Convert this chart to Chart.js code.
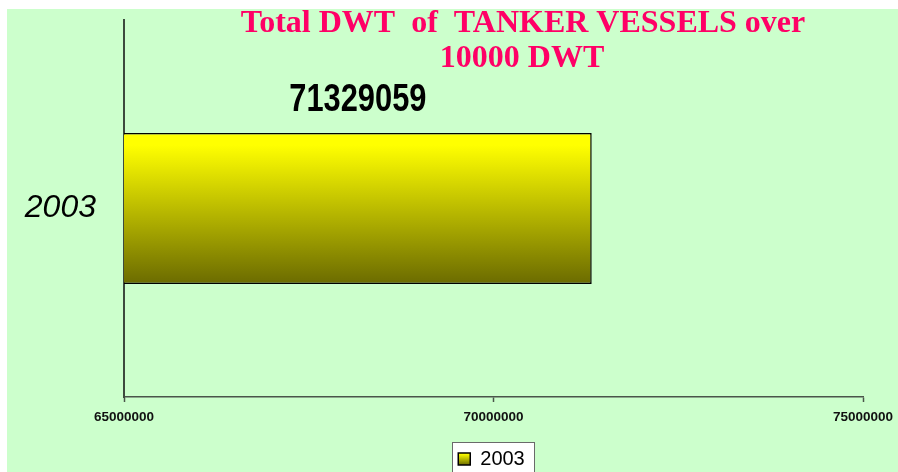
<!DOCTYPE html>
<html><head><meta charset="utf-8">
<script src="https://cdn.jsdelivr.net/npm/chart.js@4/dist/chart.umd.min.js"></script>
<style>html,body{margin:0;padding:0;background:#fff;overflow:hidden}#wrap{width:898px;height:472px;position:relative}</style>
</head><body><div id="wrap"><canvas id="c" width="898" height="472"></canvas></div>
<script>
// ---- data ----
const categories = ['2003'];
const seriesName = '2003';
const dwtValues = [71329059];
const xTickValues = [65000000, 70000000, 75000000];
const titleLines = ['Total DWT  of  TANKER VESSELS over', '10000 DWT'];

const BAR_FRACTION = 0.4;
const LEGEND_DX = 60, LEGEND_DY = 7;

function barGradient(ctx, top, bottom) {
  const g = ctx.createLinearGradient(0, top, 0, bottom);
  g.addColorStop(0, '#ffff00');
  g.addColorStop(0.08, '#ffff00');
  g.addColorStop(1, '#6b6b00');
  return g;
}

const bgPlugin = {
  id: 'bg',
  afterLayout(chart) {
    const lg = chart.legend;
    if (!lg || lg._shifted) return;
    lg.left += LEGEND_DX; lg.right += LEGEND_DX;
    lg.top += LEGEND_DY; lg.bottom += LEGEND_DY;
    lg._shifted = true;
  },
  beforeDraw(chart) {
    const ctx = chart.ctx;
    ctx.save();
    ctx.fillStyle = '#ffffff';
    ctx.fillRect(0, 0, chart.width, chart.height);
    ctx.fillStyle = '#ccffcc';
    ctx.fillRect(7, 9, chart.width - 7, chart.height - 9);
    const lg = chart.legend;
    if (lg && lg.legendItems && lg.legendItems.length) {
      const lab = lg.options.labels;
      const fs = lab.font.size;
      const bh = lab.boxHeight, bw = lab.boxWidth;
      const itemH = Math.max(fs, bh);
      ctx.font = fs + 'px "Liberation Sans", Arial, sans-serif';
      const tw = ctx.measureText(lg.legendItems[0].text).width;
      const itemW = bw + fs / 2 + tw;
      const itemLeft = (lg.left + lg.right - itemW) / 2;
      const itemTop = lg.top + lab.padding;
      const l = Math.round(itemLeft - 6), r = Math.round(itemLeft + itemW + 9), t = Math.round(itemTop + itemH / 2 - 17);
      ctx.fillStyle = '#ffffff';
      ctx.fillRect(l, t, r - l, chart.height - t + 5);
      ctx.strokeStyle = '#6a6a6a';
      ctx.lineWidth = 1;
      ctx.strokeRect(l + 0.5, t + 0.5, r - l, chart.height - t + 5);
      const bt = itemTop + (itemH - bh) / 2;
      lg.legendItems[0].fillStyle = barGradient(ctx, bt, bt + bh);
    }
    ctx.restore();
  },
  afterDraw(chart) {
    const ctx = chart.ctx;
    const xs = chart.scales.x, ys = chart.scales.y;
    const data = chart.data.datasets[0].data;
    ctx.save();
    ctx.fillStyle = '#000000';
    ctx.font = 'bold 39px "Liberation Sans", Arial, sans-serif';
    ctx.textAlign = 'center';
    ctx.textBaseline = 'middle';
    data.forEach((v, i) => {
      const x0 = xs.getPixelForValue(xs.min);
      const x1 = xs.getPixelForValue(v);
      const cx = (x0 + x1) / 2;
      const h = ys.height / categories.length * BAR_FRACTION;
      const cy = ys.getPixelForValue(i) - h / 2 - 33;
      ctx.save();
      ctx.translate(cx, cy);
      ctx.scale(0.79, 1);
      ctx.fillText(String(v), 0, 0);
      ctx.restore();
    });
    ctx.fillStyle = '#ff0066';
    ctx.font = 'bold 32px "Liberation Serif", "Times New Roman", serif';
    ctx.textAlign = 'center';
    ctx.textBaseline = 'alphabetic';
    ctx.fillText(titleLines[0], 523, 32);
    ctx.fillText(titleLines[1], 522, 67);
    ctx.restore();
  }
};

new Chart(document.getElementById('c'), {
  type: 'bar',
  data: {
    labels: categories,
    datasets: [{
      label: seriesName,
      data: dwtValues,
      backgroundColor(context) {
        const chart = context.chart;
        const ys = chart.scales.y;
        if (!chart.chartArea || !ys) return '#ffff00';
        const c = ys.getPixelForValue(context.dataIndex);
        const h = ys.height / categories.length * BAR_FRACTION;
        return barGradient(chart.ctx, c - h / 2, c + h / 2);
      },
      borderColor: '#000000',
      borderWidth: 1.5,
      borderSkipped: false,
      barPercentage: BAR_FRACTION,
      categoryPercentage: 1
    }]
  },
  options: {
    indexAxis: 'y',
    responsive: false,
    animation: false,
    devicePixelRatio: 1,
    layout: { padding: { left: 0, right: 35, top: 20, bottom: 0 } },
    scales: {
      x: {
        type: 'linear',
        min: xTickValues[0],
        max: xTickValues[xTickValues.length - 1],
        afterBuildTicks(scale) { scale.ticks = xTickValues.map(v => ({ value: v })); },
        afterFit(scale) { scale.height = 37; scale.paddingLeft = 0; scale.paddingRight = 0; },
        ticks: {
          callback: v => String(v),
          color: '#111111',
          font: { family: '"Liberation Sans", Arial, sans-serif', size: 13.5, weight: 'bold' },
          padding: 7,
          maxRotation: 0,
          autoSkip: false
        },
        grid: { drawOnChartArea: false, drawTicks: true, tickLength: 5, color: '#4a554a', tickWidth: 1.5 },
        border: { display: true, color: '#4a554a', width: 1.5 }
      },
      y: {
        afterFit(scale) { scale.width = 124; scale.paddingTop = 0; scale.paddingBottom = 0; },
        ticks: {
          color: '#000000',
          font: { family: '"Liberation Sans", Arial, sans-serif', size: 32, style: 'italic' },
          padding: 28
        },
        grid: { display: true, drawOnChartArea: false, drawTicks: false },
        border: { display: true, color: '#3d4a3d', width: 2 }
      }
    },
    plugins: {
      legend: {
        display: true,
        position: 'bottom',
        labels: {
          boxWidth: 12,
          boxHeight: 12,
          padding: 8,
          color: '#000000',
          font: { family: '"Liberation Sans", Arial, sans-serif', size: 20 }
        }
      },
      title: { display: false },
      tooltip: { enabled: false }
    }
  },
  plugins: [bgPlugin]
});
</script>
</body></html>
